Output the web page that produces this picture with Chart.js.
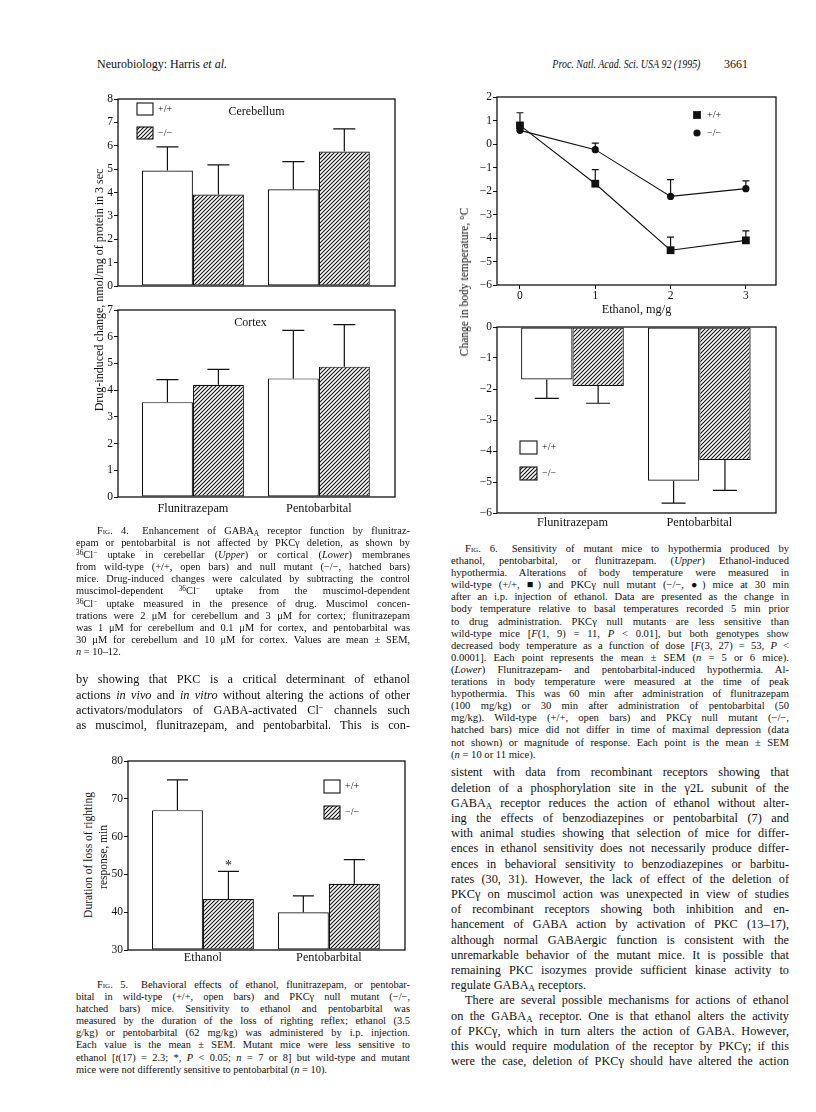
<!DOCTYPE html>
<html>
<head>
<meta charset="utf-8">
<script src="https://cdn.jsdelivr.net/npm/chart.js@4.4.0/dist/chart.umd.min.js"></script>
<style>
  body { margin: 0; width: 816px; height: 1112px; position: relative; overflow: hidden; background: #fff;
         font-family: "Liberation Serif", "Times New Roman", serif; color: #111; }
  .abs { position: absolute; white-space: nowrap; }
  canvas { position: absolute; }
  .ln { position: absolute; white-space: nowrap; text-align: justify; text-align-last: justify; }
  .ln.last { text-align-last: left; }
  .sc { font-variant: small-caps; }
  .sb { font-size: 72%; position: relative; top: 0.22em; }
  .sp { font-size: 70%; position: relative; top: -0.42em; }
  .vt { position: absolute; white-space: nowrap; transform: translate(-50%, -50%) rotate(-90deg); text-align: center; }
</style>
</head>
<body>

<div class="abs" style="left:97px;top:57px;font-size:12px">Neurobiology: Harris <i>et al.</i></div>
<div class="abs" style="right:116px;top:57px;font-size:12px;transform:scaleX(0.83);transform-origin:right center"><i>Proc. Natl. Acad. Sci. USA 92 (1995)</i></div>
<div class="abs" style="right:68px;top:57px;font-size:12px">3661</div>

<canvas id="fig4a"></canvas>
<canvas id="fig4b"></canvas>
<canvas id="fig6a"></canvas>
<canvas id="fig6b"></canvas>
<canvas id="fig5"></canvas>

<div class="vt" style="left:99px;top:290px;font-size:12px">Drug-induced change, nmol/mg of protein in 3 sec</div>
<div class="vt" style="left:464px;top:282px;font-size:11.5px">Change in body temperature, °C</div>
<div class="vt" style="left:88px;top:855px;font-size:11.5px">Duration of loss of righting</div>
<div class="vt" style="left:103px;top:857px;font-size:11.5px">response, min</div>

<script>
// ---- data ----
const drugs = ['Flunitrazepam', 'Pentobarbital'];
const genotypes = ['+/+', '\u2212/\u2212'];

// Fig. 4 upper (cerebellum), nmol/mg protein in 3 sec
const cbWt = [4.94, 4.14];
const cbWtSem = [1.01, 1.18];
const cbKo = [3.91, 5.75];
const cbKoSem = [1.27, 0.97];
// Fig. 4 lower (cortex)
const cxWt = [3.55, 4.44];
const cxWtSem = [0.84, 1.80];
const cxKo = [4.20, 4.88];
const cxKoSem = [0.58, 1.57];

// Fig. 5 loss of righting reflex, min
const fig5Drugs = ['Ethanol', 'Pentobarbital'];
const lrWt = [67.0, 40.0];
const lrWtSem = [8.0, 4.3];
const lrKo = [43.5, 47.5];
const lrKoSem = [7.3, 6.4];

// Fig. 6 upper, ethanol dose (mg/g) vs change in body temperature
const doses = [0, 1, 2, 3];
const etWt = [0.79, -1.69, -4.52, -4.10];
const etWtSem = [0.54, 0.60, 0.56, 0.40];
const etKo = [0.58, -0.24, -2.23, -1.90];
const etKoSem = [0.30, 0.28, 0.71, 0.33];

// Fig. 6 lower
const htWt = [-1.69, -4.96];
const htWtSem = [0.61, 0.72];
const htKo = [-1.90, -4.29];
const htKoSem = [0.56, 0.98];

// ---- text ----
const fig4Caption = [
  '><span class="sc">Fig.</span> 4.&ensp; Enhancement of GABA<span class="sb">A</span> receptor function by flunitraz-',
  'epam or pentobarbital is not affected by PKCγ deletion, as shown by',
  '<span class="sp">36</span>Cl<span class="sp">−</span> uptake in cerebellar (<i>Upper</i>) or cortical (<i>Lower</i>) membranes',
  'from wild-type (+/+, open bars) and null mutant (−/−, hatched bars)',
  'mice. Drug-induced changes were calculated by subtracting the control',
  'muscimol-dependent <span class="sp">36</span>Cl<span class="sp">−</span> uptake from the muscimol-dependent',
  '<span class="sp">36</span>Cl<span class="sp">−</span> uptake measured in the presence of drug. Muscimol concen-',
  'trations were 2 μM for cerebellum and 3 μM for cortex; flunitrazepam',
  'was 1 μM for cerebellum and 0.1 μM for cortex, and pentobarbital was',
  '30 μM for cerebellum and 10 μM for cortex. Values are mean ± SEM,',
  '<i>n</i> = 10–12.|'
];
const leftBody = [
  'by showing that PKC is a critical determinant of ethanol',
  'actions <i>in vivo</i> and <i>in vitro</i> without altering the actions of other',
  'activators/modulators of GABA-activated Cl<span class="sp">−</span> channels such',
  'as muscimol, flunitrazepam, and pentobarbital. This is con-'
];
const fig5Caption = [
  '><span class="sc">Fig.</span> 5.&ensp; Behavioral effects of ethanol, flunitrazepam, or pentobar-',
  'bital in wild-type (+/+, open bars) and PKCγ null mutant (−/−,',
  'hatched bars) mice. Sensitivity to ethanol and pentobarbital was',
  'measured by the duration of the loss of righting reflex; ethanol (3.5',
  'g/kg) or pentobarbital (62 mg/kg) was administered by i.p. injection.',
  'Each value is the mean ± SEM. Mutant mice were less sensitive to',
  'ethanol [<i>t</i>(17) = 2.3; *, <i>P</i> &lt; 0.05; <i>n</i> = 7 or 8] but wild-type and mutant',
  'mice were not differently sensitive to pentobarbital (<i>n</i> = 10).|'
];
const fig6Caption = [
  '><span class="sc">Fig.</span> 6.&ensp; Sensitivity of mutant mice to hypothermia produced by',
  'ethanol, pentobarbital, or flunitrazepam. (<i>Upper</i>) Ethanol-induced',
  'hypothermia. Alterations of body temperature were measured in',
  'wild-type (+/+, ■) and PKCγ null mutant (−/−, ●) mice at 30 min',
  'after an i.p. injection of ethanol. Data are presented as the change in',
  'body temperature relative to basal temperatures recorded 5 min prior',
  'to drug administration. PKCγ null mutants are less sensitive than',
  'wild-type mice [<i>F</i>(1, 9) = 11, <i>P</i> &lt; 0.01], but both genotypes show',
  'decreased body temperature as a function of dose [<i>F</i>(3, 27) = 53, <i>P</i> &lt;',
  '0.0001]. Each point represents the mean ± SEM (<i>n</i> = 5 or 6 mice).',
  '(<i>Lower</i>) Flunitrazepam- and pentobarbital-induced hypothermia. Al-',
  'terations in body temperature were measured at the time of peak',
  'hypothermia. This was 60 min after administration of flunitrazepam',
  '(100 mg/kg) or 30 min after administration of pentobarbital (50',
  'mg/kg). Wild-type (+/+, open bars) and PKCγ null mutant (−/−,',
  'hatched bars) mice did not differ in time of maximal depression (data',
  'not shown) or magnitude of response. Each point is the mean ± SEM',
  '(<i>n</i> = 10 or 11 mice).|'
];
const rightBody = [
  'sistent with data from recombinant receptors showing that',
  'deletion of a phosphorylation site in the γ2L subunit of the',
  'GABA<span class="sb">A</span> receptor reduces the action of ethanol without alter-',
  'ing the effects of benzodiazepines or pentobarbital (7) and',
  'with animal studies showing that selection of mice for differ-',
  'ences in ethanol sensitivity does not necessarily produce differ-',
  'ences in behavioral sensitivity to benzodiazepines or barbitu-',
  'rates (30, 31). However, the lack of effect of the deletion of',
  'PKCγ on muscimol action was unexpected in view of studies',
  'of recombinant receptors showing both inhibition and en-',
  'hancement of GABA action by activation of PKC (13–17),',
  'although normal GABAergic function is consistent with the',
  'unremarkable behavior of the mutant mice. It is possible that',
  'remaining PKC isozymes provide sufficient kinase activity to',
  'regulate GABA<span class="sb">A</span> receptors.|',
  '>There are several possible mechanisms for actions of ethanol',
  'on the GABA<span class="sb">A</span> receptor. One is that ethanol alters the activity',
  'of PKCγ, which in turn alters the action of GABA. However,',
  'this would require modulation of the receptor by PKCγ; if this',
  'were the case, deletion of PKCγ should have altered the action'
];

function para(lines, x, w, y0, step, size, indent) {
  lines.forEach((s, i) => {
    let ind = 0, last = false;
    if (s.startsWith('>')) { ind = indent; s = s.slice(1); }
    if (s.endsWith('|')) { last = true; s = s.slice(0, -1); }
    const d = document.createElement('div');
    d.className = 'ln' + (last ? ' last' : '');
    d.style.cssText = `left:${x + ind}px;top:${y0 + i * step - step / 2}px;width:${w - ind}px;` +
      `height:${step}px;line-height:${step}px;font-size:${size}px`;
    d.innerHTML = s;
    document.body.appendChild(d);
    let ws = 0;
    while (d.scrollWidth > d.clientWidth + 0.5 && ws > -3) { ws -= 0.25; d.style.wordSpacing = ws + 'px'; }
  });
}
para(fig4Caption, 76, 334, 531, 12.1, 10.4, 21);
para(leftBody, 76, 334, 680, 15.2, 12.3, 0);
para(fig5Caption, 76, 334, 985, 12.1, 10.4, 21);
para(fig6Caption, 451, 338, 549, 12.1, 10.6, 14);
para(rightBody, 451, 338, 773, 15.2, 12.3, 14);

// ---- chart helpers ----
Chart.defaults.font.family = '"Liberation Serif", "Times New Roman", serif';
Chart.defaults.color = '#111';
Chart.defaults.animation = false;
Chart.defaults.plugins.legend.display = false;
Chart.defaults.plugins.tooltip.enabled = false;

function makeHatch() {
  const c = document.createElement('canvas');
  c.width = c.height = 4;
  const g = c.getContext('2d');
  g.fillStyle = '#fff'; g.fillRect(0, 0, 4, 4);
  g.strokeStyle = '#111'; g.lineWidth = 1.1;
  g.beginPath();
  g.moveTo(-1, 5); g.lineTo(5, -1);
  g.moveTo(-1, 1); g.lineTo(1, -1);
  g.moveTo(3, 5); g.lineTo(5, 3);
  g.stroke();
  return g.createPattern(c, 'repeat');
}
const hatch = makeHatch();

// error bars (one-sided, like the original)
const errorBars = {
  id: 'errorBars',
  afterDatasetsDraw(chart, args, o) {
    if (!o.cap) return;
    const ctx = chart.ctx, ys = chart.scales.y;
    ctx.save();
    ctx.strokeStyle = '#111'; ctx.lineWidth = 1.2;
    chart.data.datasets.forEach((ds, di) => {
      if (!ds.sem) return;
      chart.getDatasetMeta(di).data.forEach((el, i) => {
        const end = ys.getPixelForValue(ds.data[i].y + o.dir * ds.sem[i]);
        ctx.beginPath();
        ctx.moveTo(el.x, el.y); ctx.lineTo(el.x, end);
        ctx.moveTo(el.x - o.cap, end); ctx.lineTo(el.x + o.cap, end);
        ctx.stroke();
      });
    });
    ctx.restore();
  }
};

// box round the plot area
const frame = {
  id: 'frame',
  afterDraw(chart) {
    const a = chart.chartArea, ctx = chart.ctx;
    ctx.save();
    ctx.strokeStyle = '#111'; ctx.lineWidth = 1.3;
    ctx.strokeRect(a.left, a.top, a.right - a.left, a.bottom - a.top);
    ctx.restore();
  }
};

// key drawn inside the plot
const key = {
  id: 'key',
  afterDraw(chart, args, o) {
    if (!o.items) return;
    const ctx = chart.ctx, a = chart.chartArea;
    ctx.save();
    o.items.forEach((it, k) => {
      const x = a.left + o.x, y = a.top + o.y + k * o.gap;
      ctx.strokeStyle = '#111'; ctx.lineWidth = 1.1;
      if (it.style) {
        ctx.fillStyle = '#111';
        Chart.helpers.drawPoint(ctx, { pointStyle: it.style, radius: it.r, borderWidth: 0 }, x, y);
      } else {
        ctx.fillStyle = it.fill;
        ctx.fillRect(x, y, o.w, o.h);
        ctx.strokeRect(x, y, o.w, o.h);
      }
      ctx.fillStyle = '#111';
      ctx.font = '10px "Liberation Serif"';
      ctx.textBaseline = 'middle';
      ctx.fillText(it.text, x + o.w + o.tx, y + (it.style ? 0 : o.h / 2));
    });
    ctx.restore();
  }
};

// free text in the plot (panel names, significance star)
const notes = {
  id: 'notes',
  afterDraw(chart, args, o) {
    if (!o.list) return;
    const ctx = chart.ctx, a = chart.chartArea;
    ctx.save();
    ctx.fillStyle = '#111'; ctx.textAlign = 'center'; ctx.textBaseline = 'middle';
    o.list.forEach(n => {
      ctx.font = n.size + 'px "Liberation Serif"';
      if (n.ds !== undefined) {
        const ds = chart.data.datasets[n.ds];
        const el = chart.getDatasetMeta(n.ds).data[n.i];
        const y = chart.scales.y.getPixelForValue(ds.data[n.i].y + ds.sem[n.i]);
        ctx.fillText(n.text, el.x, y + n.dy);
      } else {
        ctx.fillText(n.text, (a.left + a.right) / 2 + n.x, a.top + n.y);
      }
    });
    ctx.restore();
  }
};
Chart.register(errorBars, frame, key, notes);

function place(id, box, ml, mb) {
  const c = document.getElementById(id);
  const L = box[0] - ml, T = box[1] - 8;
  c.width = box[2] + 8 - L; c.height = box[3] + mb - T;
  c.style.left = L + 'px'; c.style.top = T + 'px';
  c.style.width = c.width + 'px'; c.style.height = c.height + 'px';
  return c;
}

function yAxis(min, max, step, ml) {
  return {
    min, max,
    afterFit: s => { s.width = ml; },
    ticks: { stepSize: step, autoSkip: false, padding: 1, font: { size: 11.5 }, color: '#111',
      callback: v => v < 0 ? '\u2212' + Math.abs(v) : String(v) },
    grid: { drawOnChartArea: false, tickLength: 4, color: '#111', lineWidth: 1 },
    border: { display: false }
  };
}
function catAxis(labels, mb, pad, show) {
  return {
    type: 'linear', min: -0.595, max: 1.605, offset: false,
    afterBuildTicks: s => { s.ticks = labels.map((_, i) => ({ value: i })); },
    afterFit: s => { s.height = mb; },
    ticks: { display: show, callback: v => labels[v] || '', padding: pad, font: { size: 12.3 },
      color: '#111', maxRotation: 0, autoSkip: false },
    grid: { display: false, drawTicks: false, offset: false },
    border: { display: false }
  };
}
function barSets(wt, wtSem, ko, koSem, base) {
  const common = { borderColor: '#111', borderWidth: 1.2, borderSkipped: false,
    barPercentage: 1, categoryPercentage: 0.81 };
  if (base !== undefined) common.base = base;
  return [
    Object.assign({ label: genotypes[0], data: wt.map((y, i) => ({ x: i, y })), sem: wtSem,
      backgroundColor: '#fff' }, common),
    Object.assign({ label: genotypes[1], data: ko.map((y, i) => ({ x: i, y })), sem: koSem,
      backgroundColor: hatch }, common)
  ];
}
const boxKey = (x, y, gap, w, h) => ({
  x, y, gap, w, h, tx: 5,
  items: [{ fill: '#fff', text: genotypes[0] }, { fill: hatch, text: genotypes[1] }]
});
const baseOpts = { responsive: false, devicePixelRatio: 1, layout: { padding: { top: 8, right: 8, left: 0, bottom: 0 } } };

// Fig. 4 upper: cerebellum
new Chart(place('fig4a', [118, 99, 395, 286], 30, 8), {
  type: 'bar',
  data: { datasets: barSets(cbWt, cbWtSem, cbKo, cbKoSem) },
  options: Object.assign({}, baseOpts, {
    scales: { x: catAxis(drugs, 8, 0, false), y: yAxis(0, 8, 1, 30) },
    plugins: {
      errorBars: { cap: 11, dir: 1 },
      key: boxKey(19, 4, 24, 16, 12),
      notes: { list: [{ text: 'Cerebellum', x: 0, y: 13, size: 12 }] }
    }
  })
});

// Fig. 4 lower: cortex
new Chart(place('fig4b', [118, 310, 395, 497], 30, 24), {
  type: 'bar',
  data: { datasets: barSets(cxWt, cxWtSem, cxKo, cxKoSem) },
  options: Object.assign({}, baseOpts, {
    scales: { x: catAxis(drugs, 24, 4, true), y: yAxis(0, 7, 1, 30) },
    plugins: {
      errorBars: { cap: 11, dir: 1 },
      notes: { list: [{ text: 'Cortex', x: -6, y: 13, size: 12 }] }
    }
  })
});

// Fig. 6 upper: ethanol dose response
new Chart(place('fig6a', [497, 97, 776, 285], 30, 32), {
  type: 'line',
  data: {
    datasets: [
      { label: genotypes[0], data: doses.map((x, i) => ({ x, y: etWt[i] })), sem: etWtSem,
        borderColor: '#111', borderWidth: 1.1, pointStyle: 'rect', pointRadius: 5.5,
        pointBackgroundColor: '#111', pointBorderWidth: 0, tension: 0 },
      { label: genotypes[1], data: doses.map((x, i) => ({ x, y: etKo[i] })), sem: etKoSem,
        borderColor: '#111', borderWidth: 1.1, pointStyle: 'circle', pointRadius: 3.6,
        pointBackgroundColor: '#111', pointBorderWidth: 0, tension: 0 }
    ]
  },
  options: Object.assign({}, baseOpts, {
    scales: {
      x: {
        type: 'linear', min: -0.305, max: 3.4,
        afterBuildTicks: s => { s.ticks = doses.map(v => ({ value: v })); },
        afterFit: s => { s.height = 32; },
        ticks: { padding: 0, font: { size: 11.5 }, color: '#111', maxRotation: 0 },
        grid: { drawOnChartArea: false, tickLength: 4, color: '#111' },
        border: { display: false },
        title: { display: true, text: 'Ethanol, mg/g', font: { size: 12.3 }, color: '#111', padding: { top: 0, bottom: 0 } }
      },
      y: yAxis(-6, 2, 1, 30)
    },
    plugins: {
      errorBars: { cap: 3.5, dir: 1 },
      key: { x: 200, y: 18, gap: 18, w: 0, h: 0, tx: 10,
        items: [{ style: 'rect', r: 5.5, text: genotypes[0] }, { style: 'circle', r: 3.6, text: genotypes[1] }] }
    }
  })
});

// Fig. 6 lower: flunitrazepam / pentobarbital hypothermia
new Chart(place('fig6b', [497, 327, 776, 513], 30, 24), {
  type: 'bar',
  data: { datasets: barSets(htWt, htWtSem, htKo, htKoSem) },
  options: Object.assign({}, baseOpts, {
    scales: { x: catAxis(drugs, 24, 2, true), y: yAxis(-6, 0, 1, 30) },
    plugins: {
      errorBars: { cap: 12, dir: -1 },
      key: boxKey(23, 114, 26, 17, 13)
    }
  })
});

// Fig. 5: loss of righting reflex
new Chart(place('fig5', [128, 761, 405, 950], 30, 20), {
  type: 'bar',
  data: { datasets: barSets(lrWt, lrWtSem, lrKo, lrKoSem, 30) },
  options: Object.assign({}, baseOpts, {
    scales: { x: catAxis(fig5Drugs, 20, 0, true), y: yAxis(30, 80, 10, 30) },
    plugins: {
      errorBars: { cap: 10.5, dir: 1 },
      key: boxKey(196, 19, 26, 16, 13),
      notes: { list: [{ text: '*', ds: 1, i: 0, dy: -5, size: 14 }] }
    }
  })
});
</script>
</body>
</html>
